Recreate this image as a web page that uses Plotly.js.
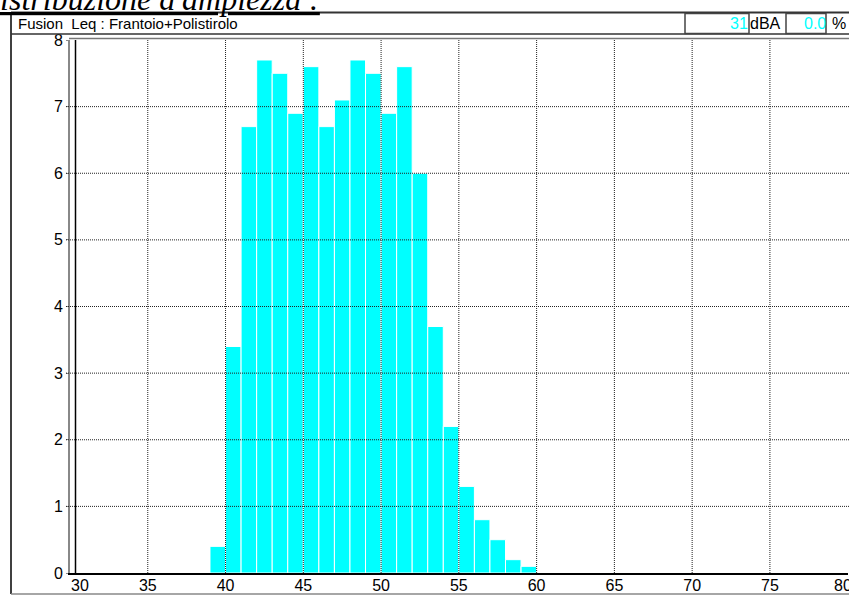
<!DOCTYPE html>
<html>
<head>
<meta charset="utf-8">
<script src="https://cdn.plot.ly/plotly-3.0.1.min.js"></script>
<style>html,body{margin:0;padding:0;background:#fff;}#chart{width:849px;height:595px;}</style>
</head>
<body>
<div id="chart"></div>
<script>
// Data: left edge of each 1 dB bin and the share (%) of time in it
var binStart = [39, 40, 41, 42, 43, 44, 45, 46, 47, 48, 49, 50, 51, 52, 53, 54, 55, 56, 57, 58, 59];
var percent  = [0.4, 3.4, 6.7, 7.7, 7.5, 6.9, 7.6, 6.7, 7.1, 7.7, 7.5, 6.9, 7.6, 6.0, 3.7, 2.2, 1.3, 0.8, 0.5, 0.2, 0.1];
var xTicks = [30, 35, 40, 45, 50, 55, 60, 65, 70, 75, 80];
var yTicks = [0, 1, 2, 3, 4, 5, 6, 7, 8];
var titleText = "Distribuzione d'ampiezza :";
var headerText = "Fusion&nbsp; Leq : Frantoio+Polistirolo";
var levelValue = "31";
var levelUnit = "dBA";
var pctValue = "0.0";
var pctUnit = "%";

var W = 849, H = 595, ML = 70, MR = 1, MT = 40, MB = 22;
var PW = W - ML - MR, PH = H - MT - MB;
function px(x) { return (x - ML) / PW; }
function py(y) { return (H - MB - y) / PH; }

var SANS = 'Liberation Sans, Arial, sans-serif';
var tickFont = { family: SANS, size: 16, color: '#000' };

var trace = {
  type: 'bar',
  x: binStart.map(function (b) { return b + 0.5; }),
  y: percent,
  width: binStart.map(function () { return 1; }),
  marker: { color: '#00FFFF', line: { color: '#FFFFFF', width: 1 } },
  hoverinfo: 'x+y'
};

var shapes = [];
// dotted grid above the bars
xTicks.slice(1, -1).forEach(function (v) {
  shapes.push({ type: 'line', layer: 'above', xref: 'x', yref: 'paper', x0: v, x1: v, y0: 0, y1: 1,
    line: { color: '#222', width: 1, dash: '1px,1px' } });
});
yTicks.slice(1, -1).forEach(function (v) {
  shapes.push({ type: 'line', layer: 'above', xref: 'paper', yref: 'y', x0: px(66), x1: 1.01, y0: v, y1: v,
    line: { color: '#222', width: 1, dash: '1px,1px' } });
});
// inner black axis line next to the grey one
shapes.push({ type: 'line', layer: 'above', xref: 'paper', yref: 'paper', x0: px(75.5), x1: px(75.5), y0: 0, y1: py(40),
  line: { color: '#000', width: 1.5 } });
// top line of the plot area
shapes.push({ type: 'line', layer: 'above', xref: 'paper', yref: 'paper', x0: px(69), x1: 1.01, y0: py(38.5), y1: py(38.5),
  line: { color: '#777', width: 1.5 } });
// outer frame
shapes.push({ type: 'line', xref: 'paper', yref: 'paper', x0: px(11), x1: px(11), y0: py(12), y1: py(594),
  line: { color: '#000', width: 1.5 } });
shapes.push({ type: 'line', xref: 'paper', yref: 'paper', x0: px(11), x1: 1.01, y0: py(594), y1: py(594),
  line: { color: '#888', width: 1.5 } });
// header row
shapes.push({ type: 'line', xref: 'paper', yref: 'paper', x0: px(11), x1: 1.01, y0: py(12.5), y1: py(12.5),
  line: { color: '#333', width: 2 } });
shapes.push({ type: 'line', xref: 'paper', yref: 'paper', x0: px(11), x1: 1.01, y0: py(34), y1: py(34),
  line: { color: '#333', width: 1.5 } });
// value boxes
shapes.push({ type: 'rect', xref: 'paper', yref: 'paper', x0: px(685), x1: px(749), y0: py(13.5), y1: py(33.5),
  line: { color: '#444', width: 1.5 } });
shapes.push({ type: 'rect', xref: 'paper', yref: 'paper', x0: px(786), x1: px(826), y0: py(13.5), y1: py(33.5),
  line: { color: '#444', width: 1.5 } });

// the first and last x tick labels are pushed inward, as in the original
var firstX = xTicks[0], lastX = xTicks[xTicks.length - 1];
var tickLabels = xTicks.map(function (v) { return (v === firstX || v === lastX) ? '' : String(v); });

var annotations = [
  { text: '<u>' + titleText + '</u>', xref: 'paper', yref: 'paper', x: px(322), y: py(19), xanchor: 'right', yanchor: 'bottom',
    showarrow: false, font: { family: 'Liberation Serif, Times New Roman, serif', size: 32, style: 'italic', color: '#000' } },
  { text: headerText, xref: 'paper', yref: 'paper', x: px(16), y: py(23.5), xanchor: 'left', yanchor: 'middle',
    showarrow: false, font: { family: SANS, size: 15, color: '#000' } },
  { text: levelValue, xref: 'paper', yref: 'paper', x: px(750), y: py(23.5), xanchor: 'right', yanchor: 'middle',
    showarrow: false, font: { family: SANS, size: 16, color: '#00FFFF' } },
  { text: levelUnit, xref: 'paper', yref: 'paper', x: px(748), y: py(23.5), xanchor: 'left', yanchor: 'middle',
    showarrow: false, font: { family: SANS, size: 16, color: '#000' } },
  { text: pctValue, xref: 'paper', yref: 'paper', x: px(828), y: py(23.5), xanchor: 'right', yanchor: 'middle',
    showarrow: false, font: { family: SANS, size: 16, color: '#00FFFF' } },
  { text: pctUnit, xref: 'paper', yref: 'paper', x: px(838.5), y: py(23.5), xanchor: 'center', yanchor: 'middle',
    showarrow: false, font: { family: SANS, size: 16, color: '#000' } },
  { text: String(firstX), xref: 'x', yref: 'paper', x: firstX, y: py(585), xanchor: 'left', yanchor: 'middle',
    xshift: -1, showarrow: false, font: tickFont },
  { text: String(lastX), xref: 'x', yref: 'paper', x: lastX, y: py(585), xanchor: 'left', yanchor: 'middle',
    xshift: -16, showarrow: false, font: tickFont }
];

var layout = {
  width: W, height: H,
  margin: { l: ML, r: MR, t: MT, b: MB, pad: 0 },
  paper_bgcolor: '#fff', plot_bgcolor: '#fff',
  showlegend: false,
  bargap: 0,
  xaxis: {
    range: [30, 80.02], tickvals: xTicks, ticktext: tickLabels,
    showgrid: false, zeroline: false, showline: true, linecolor: '#000', linewidth: 1.5,
    ticks: '', ticklabelstandoff: -3, tickfont: tickFont, fixedrange: true
  },
  yaxis: {
    range: [0, 8], tickvals: yTicks, ticktext: yTicks.map(String),
    showgrid: false, zeroline: false, showline: true, linecolor: '#888', linewidth: 2,
    ticks: 'outside', ticklen: 2, tickcolor: '#888', tickfont: tickFont, fixedrange: true
  },
  shapes: shapes,
  annotations: annotations
};

Plotly.newPlot('chart', [trace], layout, { displayModeBar: false, staticPlot: true });
</script>
</body>
</html>
